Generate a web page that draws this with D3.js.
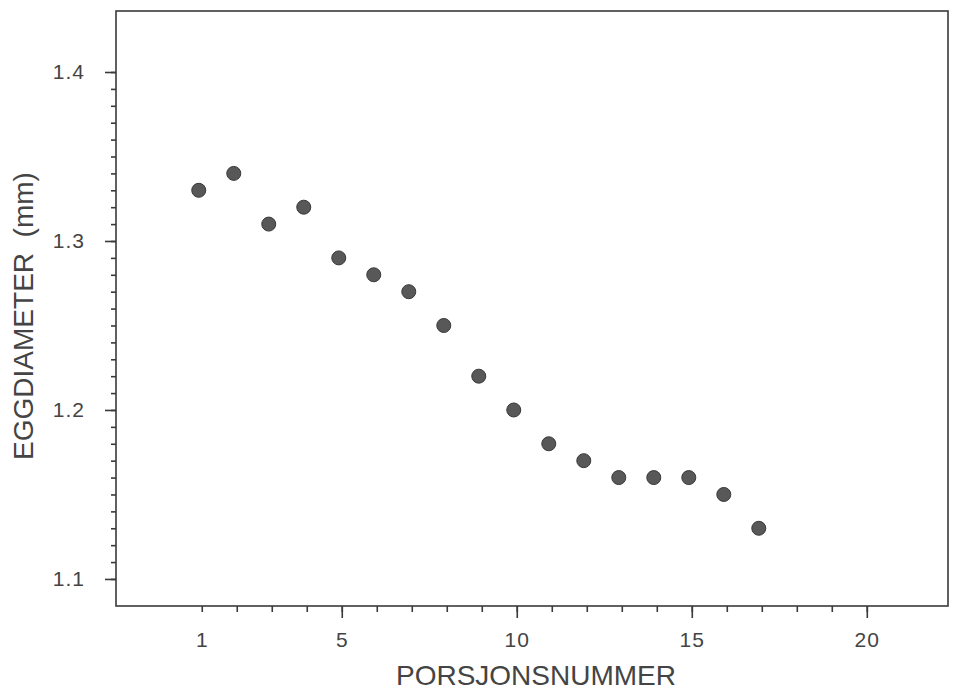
<!DOCTYPE html>
<html>
<head>
<meta charset="utf-8">
<script src="https://cdn.jsdelivr.net/npm/d3@7"></script>
<style>
  html, body { margin: 0; padding: 0; background: #fff; }
  svg { display: block; }
  .tick text { font-family: "Liberation Sans", Arial, sans-serif; fill: #444; }
  .axis-title { font-family: "Liberation Sans", Arial, sans-serif; fill: #444; }
</style>
</head>
<body>
<svg id="chart" width="953" height="690"></svg>
<script>
// Egg diameter per spawning batch (porsjon)
const porsjon = [1, 2, 3, 4, 5, 6, 7, 8, 9, 10, 11, 12, 13, 14, 15, 16, 17];
const eggdiameter = [1.33, 1.34, 1.31, 1.32, 1.29, 1.28, 1.27, 1.25, 1.22, 1.20, 1.18, 1.17, 1.16, 1.16, 1.16, 1.15, 1.13];

const xMajorTicks = [1, 5, 10, 15, 20];
const xMinorTicks = d3.range(1, 21);
const yMajorTicks = [1.1, 1.2, 1.3, 1.4];
const yMinorTicks = d3.range(110, 141).map(d => d / 100);

const xTitle = "PORSJONSNUMMER";
const yTitle = "EGGDIAMETER  (mm)";

const W = 953, H = 690;
const frame = { left: 116, right: 948, top: 11, bottom: 606 };

const svg = d3.select("#chart");

const x = d3.scaleLinear().domain([-1.45, 22.32]).range([frame.left, frame.right]);
const y = d3.scaleLinear().domain([1.084, 1.4361]).range([frame.bottom, frame.top]);

const ink = "#3a3a3a";

// plot frame
svg.append("rect")
  .attr("x", frame.left).attr("y", frame.top)
  .attr("width", frame.right - frame.left)
  .attr("height", frame.bottom - frame.top)
  .attr("fill", "none").attr("stroke", ink).attr("stroke-width", 1.6);

// y axis: minor ticks every 0.01, labelled major ticks every 0.1
const yMinor = svg.append("g")
  .attr("transform", `translate(${frame.left},0)`)
  .call(d3.axisLeft(y).tickValues(yMinorTicks).tickSize(5).tickFormat(""));
const yMajor = svg.append("g")
  .attr("transform", `translate(${frame.left},0)`)
  .call(d3.axisLeft(y).tickValues(yMajorTicks).tickSize(11).tickPadding(20).tickFormat(d3.format(".1f")));

// x axis: minor ticks every 1, longer ticks every 5
const xMinor = svg.append("g")
  .attr("transform", `translate(0,${frame.bottom})`)
  .call(d3.axisBottom(x).tickValues(xMinorTicks).tickSize(6).tickFormat(""));
const xMajor = svg.append("g")
  .attr("transform", `translate(0,${frame.bottom})`)
  .call(d3.axisBottom(x).tickValues(xMajorTicks.filter(d => d % 5 === 0)).tickSize(12).tickFormat(""));
const xLabels = svg.append("g")
  .attr("transform", `translate(0,${frame.bottom})`)
  .call(d3.axisBottom(x).tickValues(xMajorTicks).tickSize(0).tickPadding(26).tickFormat(d3.format("d")));

[yMinor, yMajor, xMinor, xMajor, xLabels].forEach(g => {
  g.select(".domain").remove();
  g.selectAll(".tick line").attr("stroke", ink).attr("stroke-width", 1.6);
  g.selectAll(".tick text").attr("font-size", 21).attr("letter-spacing", 1);
});

// axis titles
svg.append("text")
  .attr("class", "axis-title")
  .attr("x", 536).attr("y", 685)
  .attr("text-anchor", "middle")
  .attr("font-size", 28)
  .attr("letter-spacing", 0)
  .text(xTitle);

svg.append("text")
  .attr("class", "axis-title")
  .attr("transform", "translate(33,316) rotate(-90)")
  .attr("text-anchor", "middle")
  .attr("font-size", 28)
  .style("white-space", "pre")
  .text(yTitle);

// data points
svg.append("g")
  .selectAll("circle")
  .data(porsjon.map((p, i) => ({ p, v: eggdiameter[i] })))
  .join("circle")
  .attr("cx", d => x(d.p) - 3)
  .attr("cy", d => y(d.v))
  .attr("r", 7)
  .attr("fill", "#585858")
  .attr("stroke", "#383838")
  .attr("stroke-width", 1);
</script>
</body>
</html>
